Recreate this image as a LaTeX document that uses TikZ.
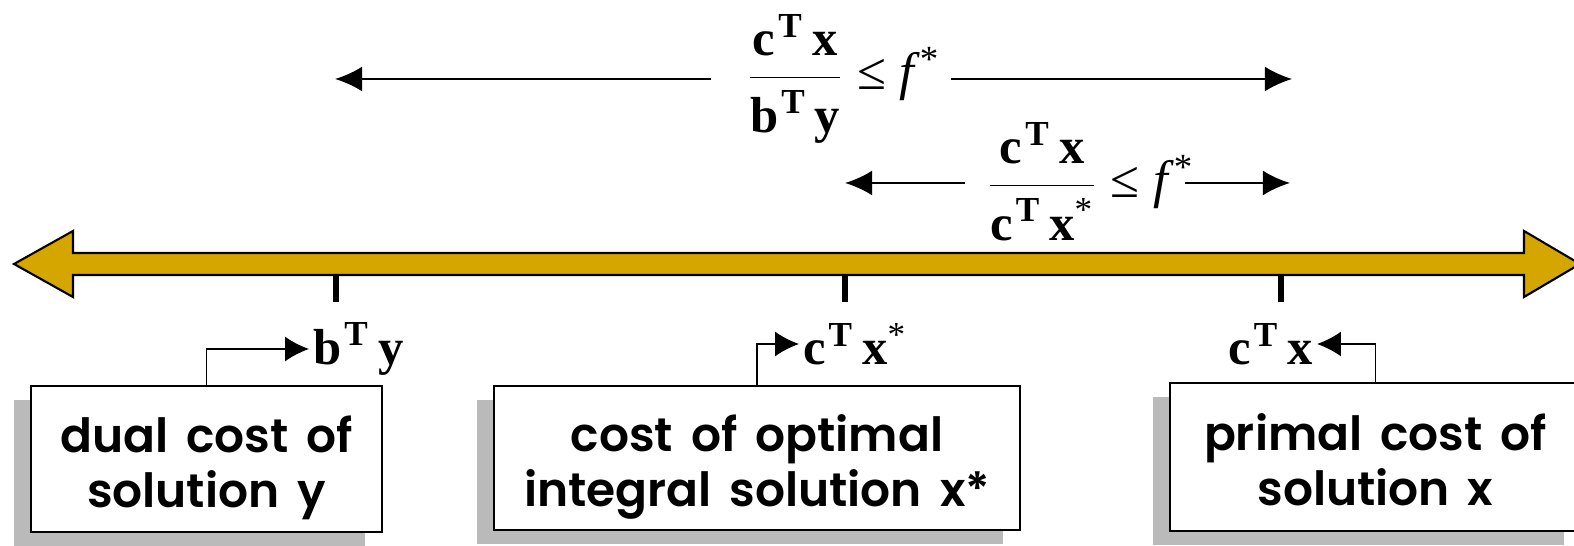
\documentclass[tikz,border=0pt]{standalone}
\usepackage{fontspec}
\usepackage{tikz}
\usetikzlibrary{arrows.meta,shadows}
\setmainfont{Liberation Serif}
\newfontfamily\boxfont{Poppins SemiBold}[WordSpace=1.6]
\definecolor{rulegold}{RGB}{214,166,0}
\newcommand{\tr}{\hspace{0.06em}\textsuperscript{T}}
\newcommand{\boxlines}[2]{\rule{0pt}{0.6cm}#1\\#2\rule[-0.18cm]{0pt}{0.18cm}}

\begin{document}
\begin{tikzpicture}[x=1cm,y=1cm,
    costbox/.style={draw=black, line width=0.6pt, fill=white, align=center,
      inner ysep=0pt, font=\boxfont\fontsize{13.4}{15.4}\selectfont,
      drop shadow={shadow xshift=-0.17cm, shadow yshift=-0.14cm,
        fill=black!27, opacity=1}},
    costval/.style={inner sep=1pt, font=\bfseries\fontsize{14.4}{17}\selectfont},
    ratio/.style={inner sep=0pt, anchor=base, font=\fontsize{14.4}{17}\selectfont},
    feed/.style={line width=0.5pt, -{Latex[length=6.8pt,width=7.1pt]}},
    reach/.style={line width=0.65pt, -{Latex[length=7.7pt,width=7.1pt]}}]
    \path[use as bounding box, clip] (0,0) rectangle (15.74,5.46);
    % the cost axis, a two-headed band
    \draw[line width=0.6pt, fill=rulegold] (0.14,2.82) -- (0.73,3.15) -- (0.73,2.93)
      -- (15.24,2.93) -- (15.24,3.15) -- (15.80,2.82) -- (15.24,2.49)
      -- (15.24,2.71) -- (0.73,2.71) -- (0.73,2.49) -- cycle;
    \foreach \t in {3.36,8.45,12.81}
      \draw[line width=1.7pt] (\t,2.70) -- (\t,2.44);
    % the three costs
    \node[costbox, minimum width=3.51cm, minimum height=1.46cm] (dualbox)
      at (2.065,0.87) {\boxlines{dual cost of}{solution y}};
    \node[costbox, minimum width=5.26cm, minimum height=1.44cm] (optbox)
      at (7.57,0.88) {\boxlines{cost of optimal}{integral solution x*}};
    \node[costbox, minimum width=4.11cm, minimum height=1.48cm] (primbox)
      at (13.755,0.89) {\boxlines{primal cost of}{solution x}};
    \node[costval, anchor=west] (dualval) at (3.09,1.97) {b\tr\,y};
    \node[costval, anchor=west] (optval) at (7.99,2.02) {c\tr\,x\textsuperscript{\mdseries *}};
    \node[costval, anchor=east] (primval) at (13.17,2.02) {c\tr\,x};
    \draw[feed] (dualbox.north) |- (dualval.west);
    \draw[feed] (optbox.north) |- (optval.west);
    \draw[feed] (primbox.north) |- (primval.east);
    % ratios and how far they reach
    \node[ratio] (ratioA) at (8.43,4.56)
      {$\displaystyle\frac{\hbox{\bfseries c\tr\,x}}{\hbox{\bfseries\rule{0pt}{0.5cm}b\tr\,y}}$
       {\fontsize{15}{17}\selectfont ≤ \textit{f}\textsuperscript{*}}};
    \node[ratio] (ratioB) at (10.90,3.48)
      {$\displaystyle\frac{\hbox{\bfseries c\tr\,x}}{\hbox{\bfseries\rule{0pt}{0.5cm}c\tr\,x\textsuperscript{\mdseries *}}}$
       {\fontsize{15}{17}\selectfont ≤ \textit{f}\textsuperscript{*}}};
    \coordinate (loA) at (3.35,4.67);
    \coordinate (hiA) at (12.92,4.67);
    \coordinate (loB) at (8.45,3.63);
    \coordinate (hiB) at (12.90,3.63);
    \draw[reach, shorten <=0.34cm] (ratioA.west |- loA) -- (loA);
    \draw[reach, shorten <=0.1cm] (ratioA.east |- hiA) -- (hiA);
    \draw[reach, shorten <=0.2cm] (ratioB.west |- loB) -- (loB);
    \draw[reach, shorten <=-0.1cm] (ratioB.east |- hiB) -- (hiB);
  \end{tikzpicture}
\end{document}
